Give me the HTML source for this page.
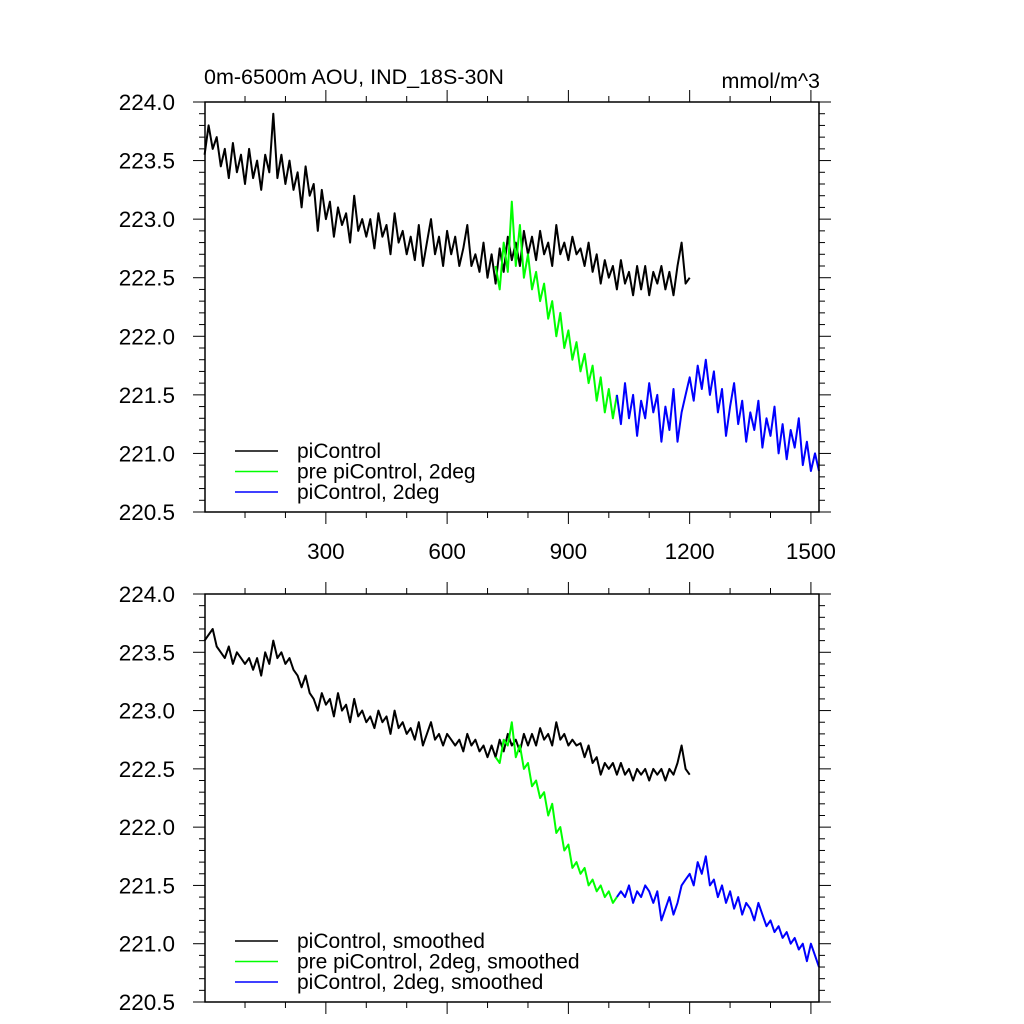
<!DOCTYPE html>
<html><head><meta charset="utf-8"><style>
body{margin:0;background:#fff}
svg{display:block;font-family:"Liberation Sans",Arial,sans-serif}
</style></head><body>
<svg id="chart" width="1024" height="1024" viewBox="0 0 1024 1024" xmlns="http://www.w3.org/2000/svg">
<text x="204" y="84" font-size="21.5">0m-6500m AOU, IND_18S-30N</text>
<text x="820" y="88" font-size="21.5" text-anchor="end">mmol/m^3</text>
</svg>
<script>
const xTicks=[300,600,900,1200,1500];
const yTicks=[220.5,221.0,221.5,222.0,222.5,223.0,223.5,224.0];
const blackStart=0, greenStart=720, blueStart=1020, step=10;
const blackRaw=[223.55,223.8,223.6,223.7,223.45,223.6,223.35,223.65,223.4,223.55,223.3,
223.6,223.35,223.5,223.25,223.55,223.4,223.9,223.35,223.55,223.3,
223.5,223.25,223.4,223.1,223.45,223.2,223.3,222.9,223.25,223.0,
223.15,222.85,223.1,222.95,223.05,222.8,223.2,222.9,223.0,222.85,
223.0,222.75,223.05,222.85,222.95,222.7,223.05,222.8,222.9,222.7,
222.85,222.65,222.95,222.6,222.8,223.0,222.7,222.85,222.6,222.9,
222.7,222.85,222.6,222.75,222.95,222.6,222.7,222.55,222.8,222.5,
222.7,222.45,222.75,222.55,222.85,222.65,222.8,222.6,222.9,222.7,
222.85,222.65,222.9,222.7,222.8,222.6,222.95,222.7,222.8,222.65,
222.85,222.7,222.75,222.6,222.8,222.55,222.7,222.45,222.65,222.5,
222.6,222.4,222.65,222.45,222.55,222.35,222.6,222.4,222.6,222.35,
222.55,222.45,222.6,222.4,222.55,222.35,222.6,222.8,222.45,222.5];
const greenRaw=[222.6,222.4,222.8,222.55,223.15,222.6,222.95,222.5,222.7,222.4,222.55,
222.3,222.45,222.15,222.3,222.0,222.2,221.9,222.05,221.8,221.95,
221.7,221.85,221.6,221.75,221.45,221.65,221.35,221.55,221.3,221.5];
const blueRaw=[221.5,221.25,221.6,221.3,221.5,221.15,221.45,221.3,221.6,
221.35,221.5,221.1,221.4,221.2,221.55,221.1,221.35,221.5,221.65,
221.45,221.75,221.55,221.8,221.5,221.7,221.35,221.55,221.15,221.4,
221.6,221.25,221.45,221.1,221.35,221.2,221.45,221.05,221.3,221.15,
221.4,221.0,221.25,220.95,221.2,221.05,221.3,220.9,221.1,220.85,
221.0,220.85];
const blackSmooth=[223.6,223.65,223.7,223.55,223.5,223.45,223.55,223.4,223.5,223.45,223.4,
223.45,223.35,223.45,223.3,223.5,223.4,223.6,223.45,223.5,223.4,
223.45,223.35,223.3,223.2,223.3,223.15,223.1,223.0,223.15,223.05,
223.1,222.95,223.15,223.0,223.05,222.9,223.1,222.95,223.0,222.9,
222.95,222.85,223.0,222.9,222.95,222.8,223.0,222.85,222.9,222.8,
222.85,222.75,222.9,222.7,222.8,222.9,222.75,222.8,222.7,222.8,
222.75,222.7,222.75,222.65,222.8,222.7,222.75,222.65,222.7,222.6,
222.7,222.6,222.75,222.65,222.8,222.7,222.75,222.65,222.8,222.7,
222.8,222.7,222.85,222.75,222.8,222.7,222.9,222.75,222.8,222.7,
222.75,222.7,222.72,222.6,222.7,222.55,222.6,222.45,222.55,222.5,
222.55,222.45,222.55,222.45,222.5,222.4,222.5,222.45,222.5,222.4,
222.5,222.45,222.5,222.4,222.5,222.45,222.55,222.7,222.5,222.45];
const greenSmooth=[222.6,222.55,222.75,222.7,222.9,222.6,222.7,222.5,222.55,222.35,222.4,222.25,222.3,222.1,222.2,221.95,222.0,221.8,221.85,221.65,221.7,221.6,221.65,221.5,221.55,221.45,221.5,221.4,221.45,221.35,221.4];
const blueSmooth=[221.4,221.45,221.4,221.5,221.35,221.45,221.4,221.5,221.45,221.35,221.45,221.2,221.3,221.4,221.25,221.35,221.5,221.55,221.6,221.5,221.7,221.6,221.75,221.5,221.55,221.4,221.5,221.35,221.45,221.3,221.4,221.25,221.35,221.3,221.2,221.35,221.25,221.15,221.2,221.1,221.15,221.05,221.1,221.0,221.05,220.95,221.0,220.85,221.0,220.9,220.8];
const legendTop=["piControl","pre piControl, 2deg","piControl, 2deg"];
const legendBottom=["piControl, smoothed","pre piControl, 2deg, smoothed","piControl, 2deg, smoothed"];

const NS="http://www.w3.org/2000/svg";
const svg=document.getElementById('chart');
const X0=205,X1=819,XMIN=1,XMAX=1520,YMIN=220.5,YMAX=224.0;
function mk(tag,attrs){const e=document.createElementNS(NS,tag);for(const k in attrs)e.setAttribute(k,attrs[k]);svg.appendChild(e);return e;}
function panel(top,bottom,showX,series,labels,legY,pname){
  const xs=v=>X0+(v-XMIN)/(XMAX-XMIN)*(X1-X0);
  const ys=v=>bottom-(v-YMIN)/(YMAX-YMIN)*(bottom-top);
  for(let i=0;i<=35;i++){const v=YMIN+i*0.1;const y=ys(v);const maj=i%5===0;const L=maj?12:6;
    const t1=mk('line',{x1:X0-L,x2:X0,y1:y,y2:y,stroke:'#000','stroke-width':1});
    
    const t2=mk('line',{x1:X1,x2:X1+L,y1:y,y2:y,stroke:'#000','stroke-width':1});
    }
  yTicks.forEach(v=>{const t=mk('text',{x:175,y:ys(v)+8,'font-size':22.5,'text-anchor':'end'});t.textContent=v.toFixed(1);
    });
  for(let v=100;v<=1500;v+=100){const x=xs(v);const maj=v%300===0;const L=maj?12:6;
    const a=mk('line',{x1:x,x2:x,y1:bottom,y2:bottom+L,stroke:'#000','stroke-width':1});
    
    const b=mk('line',{x1:x,x2:x,y1:top-L,y2:top,stroke:'#000','stroke-width':1});
    }
  if(showX) xTicks.forEach(v=>{const t=mk('text',{x:xs(v),y:bottom+47,'font-size':22.5,'text-anchor':'middle'});t.textContent=v;
    });
  series.forEach(s=>{const pts=s.d.map((v,i)=>xs(s.start+i*step).toFixed(1)+','+ys(v).toFixed(1)).join(' ');
    const p=mk('polyline',{points:pts,fill:'none',stroke:s.c,'stroke-width':2,'stroke-linejoin':'round'});
    });
  const fr=mk('rect',{x:X0,y:top,width:X1-X0,height:bottom-top,fill:'none',stroke:'#000','stroke-width':1.5});
  
  labels.forEach((l,i)=>{const y=legY+i*20.5;
    const ln=mk('line',{x1:235,x2:278,y1:y,y2:y,stroke:series[i].c,'stroke-width':1.6});
    
    const t=mk('text',{x:297,y:y+7,'font-size':21});t.textContent=l;
    });
}
panel(102,512,true,[{d:blackRaw,start:blackStart,c:'#000',n:'picontrol-line'},{d:greenRaw,start:greenStart,c:'#00ff00',n:'pre-picontrol-2deg-line'},{d:blueRaw,start:blueStart,c:'#0000ff',n:'picontrol-2deg-line'}],legendTop,451,'top-panel');
panel(594,1002,false,[{d:blackSmooth,start:blackStart,c:'#000',n:'picontrol-smoothed-line'},{d:greenSmooth,start:greenStart,c:'#00ff00',n:'pre-picontrol-2deg-smoothed-line'},{d:blueSmooth,start:blueStart,c:'#0000ff',n:'picontrol-2deg-smoothed-line'}],legendBottom,941,'bottom-panel');
</script>
</body></html>
